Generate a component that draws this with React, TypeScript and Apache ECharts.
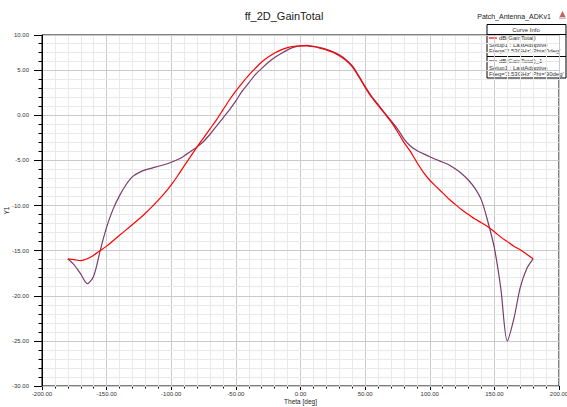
import React, { useEffect, useRef } from "react";
import * as echarts from "echarts";

const theta = [
  -180, -175, -170, -165, -160, -155, -150, -145, -140, -135, -130, -125, -120, -115, -110, -105, -100, -95, -90, -85,
  -80, -75, -70, -65, -60, -55, -50, -45, -40, -35, -30, -25, -20, -15, -10, -5, 0, 5, 10, 15, 20, 25, 30, 35, 40, 45,
  50, 55, 60, 65, 70, 75, 80, 85, 90, 95, 100, 105, 110, 115, 120, 125, 130, 135, 140, 145, 150, 155, 160, 165, 170,
  175, 180,
];

// dB(GainTotal), Phi = 0deg
const gainPhi0 = [
  -15.9, -16.0, -16.1, -15.9, -15.5, -15.0, -14.5, -13.9, -13.3, -12.7, -12.1, -11.5, -10.85, -10.15, -9.4, -8.6, -7.7,
  -6.7, -5.6, -4.55, -3.5, -2.5, -1.5, -0.5, 0.6, 1.7, 2.7, 3.6, 4.45, 5.2, 5.9, 6.45, 6.9, 7.25, 7.5, 7.65, 7.7, 7.7,
  7.6, 7.45, 7.25, 7.0, 6.6, 6.1, 5.4, 4.3, 3.1, 2.0, 1.1, 0.2, -0.7, -1.8, -3.0, -4.0, -5.2, -6.3, -7.2, -7.9, -8.6,
  -9.3, -9.9, -10.5, -11.0, -11.5, -11.9, -12.35, -12.9, -13.5, -14.0, -14.5, -14.9, -15.4, -15.9,
];

// dB(GainTotal)_1, Phi = 90deg
const gainPhi90 = [
  -15.9, -16.6, -17.6, -18.65, -17.8, -15.0, -12.4, -10.4, -8.9, -7.7, -6.8, -6.35, -6.05, -5.85, -5.65, -5.45, -5.2,
  -4.9, -4.5, -4.0, -3.5, -2.9, -2.1, -1.2, -0.3, 0.6, 1.6, 2.7, 3.6, 4.5, 5.2, 5.85, 6.4, 6.85, 7.25, 7.55, 7.7, 7.75,
  7.65, 7.5, 7.3, 7.05, 6.7, 6.2, 5.5, 4.4, 3.2, 2.1, 1.2, 0.3, -0.6, -1.5, -2.6, -3.4, -3.9, -4.25, -4.6, -4.9, -5.2,
  -5.5, -5.95, -6.5, -7.2, -8.1, -9.4, -11.8, -14.7, -19.2, -25.0, -22.6, -19.1, -17.0, -15.9,
];

const yTickLabels = ["-30.00", "-25.00", "-20.00", "-15.00", "-10.00", "-5.00", "0.00", "5.00", "10.00"];

const FONT = "Liberation Sans, Arial, sans-serif";
const RED = "#ff0000";
const PURPLE = "#7d3c6e";

export default function App() {
  const ref = useRef<HTMLDivElement>(null);
  useEffect(() => {
    const chart = echarts.init(ref.current!, null, { renderer: "svg" });
    const lightCycle = ["rgba(0,0,0,0)", "#e9e9e9", "#e9e9e9", "#e9e9e9", "#e9e9e9"];
    const legendText = (x: number, y: number, text: string) => ({
      type: "text",
      x,
      y,
      style: { text, fill: "#333", fontSize: 6, fontFamily: FONT, verticalAlign: "middle" },
    });
    chart.setOption({
      animation: false,
      backgroundColor: "#ffffff",
      textStyle: { fontFamily: FONT },
      grid: {
        left: 42,
        right: 8,
        top: 35,
        bottom: 21,
        show: true,
        borderColor: "#000",
        borderWidth: 1,
        containLabel: false,
        outerBoundsMode: "none",
      },
      xAxis: {
        type: "value",
        min: -200,
        max: 200,
        interval: 50,
        name: "Theta [deg]",
        nameLocation: "middle",
        nameGap: 11.5,
        nameMoveOverlap: false,
        nameTextStyle: { fontSize: 6.5, color: "#222", fontFamily: FONT },
        axisLine: { show: true, onZero: false, lineStyle: { color: "#000", width: 1 } },
        axisTick: { show: true, length: 4, lineStyle: { color: "#000" } },
        minorTick: { show: true, splitNumber: 5, length: 2.5, lineStyle: { color: "#000" } },
        axisLabel: { fontSize: 6, color: "#333", margin: 5, formatter: (v: number) => v.toFixed(2) },
        splitLine: { show: true, lineStyle: { color: "#cacaca", width: 1 } },
        minorSplitLine: { show: true, lineStyle: { color: "#e9e9e9", width: 1 } },
      },
      yAxis: [
        {
          type: "value",
          min: -30,
          max: 8.9,
          interval: 5,
          name: "Y1",
          nameLocation: "middle",
          nameGap: 32,
          nameMoveOverlap: false,
          nameTextStyle: { fontSize: 6.5, color: "#222", fontFamily: FONT },
          axisLine: { show: true, onZero: false, lineStyle: { color: "#000", width: 1 } },
          axisTick: { show: true, length: 8, lineStyle: { color: "#000" } },
          axisLabel: {
            fontSize: 6,
            color: "#333",
            margin: 13,
            formatter: (_v: number, i: number) => yTickLabels[i] ?? "",
          },
          splitLine: { show: true, lineStyle: { color: "#cacaca", width: 1 } },
          z: 2,
        },
        {
          type: "value",
          min: -30,
          max: 8.9,
          interval: 1,
          position: "left",
          axisLine: { show: false, onZero: false },
          axisTick: { show: true, length: 3.5, lineStyle: { color: "#000" } },
          axisLabel: { show: false },
          splitLine: { show: true, lineStyle: { color: lightCycle, width: 1 } },
          z: 1,
        },
      ],
      series: [
        {
          name: "dB(GainTotal)",
          type: "line",
          yAxisIndex: 0,
          data: theta.map((t, i) => [t, gainPhi0[i]]),
          smooth: 0.3,
          showSymbol: false,
          lineStyle: { color: RED, width: 1.2 },
          z: 4,
        },
        {
          name: "dB(GainTotal)_1",
          type: "line",
          yAxisIndex: 0,
          data: theta.map((t, i) => [t, gainPhi90[i]]),
          smooth: 0.3,
          showSymbol: false,
          lineStyle: { color: PURPLE, width: 1.2 },
          z: 3,
        },
      ],
      graphic: [
        {
          type: "text",
          x: 284,
          y: 16,
          style: { text: "ff_2D_GainTotal", fill: "#222", fontSize: 11, fontFamily: FONT, align: "center", verticalAlign: "middle" },
        },
        {
          type: "text",
          x: 514,
          y: 16,
          style: { text: "Patch_Antenna_ADKv1", fill: "#222", fontSize: 7, fontFamily: FONT, align: "center", verticalAlign: "middle" },
        },
        { type: "polygon", shape: { points: [[562.5, 11], [565.5, 17], [559.5, 17]] }, style: { fill: "#c9605a" } },
        { type: "rect", shape: { x: 559, y: 17.5, width: 7, height: 1.2 }, style: { fill: "#aaa" } },
        {
          type: "group",
          z: 100,
          children: [
            { type: "rect", shape: { x: 487, y: 24.5, width: 79, height: 53.5 }, style: { fill: "#fff", stroke: "#000", lineWidth: 1 } },
            { type: "line", shape: { x1: 487, y1: 34.5, x2: 566, y2: 34.5 }, style: { stroke: "#000", lineWidth: 1 } },
            { type: "line", shape: { x1: 487, y1: 56.5, x2: 566, y2: 56.5 }, style: { stroke: "#000", lineWidth: 1 } },
            {
              type: "text",
              x: 526,
              y: 29.5,
              style: { text: "Curve Info", fill: "#333", fontSize: 6, fontFamily: FONT, align: "center", verticalAlign: "middle" },
            },
            { type: "line", shape: { x1: 489, y1: 38, x2: 497, y2: 38 }, style: { stroke: RED, lineWidth: 1.2 } },
            legendText(499, 38, "dB(GainTotal)"),
            legendText(489, 44.5, "Setup1 : LastAdaptive"),
            legendText(489, 51, "Freq='2.53GHz' Phi='0deg'"),
            { type: "line", shape: { x1: 489, y1: 61, x2: 497, y2: 61 }, style: { stroke: PURPLE, lineWidth: 1.2 } },
            legendText(499, 61, "dB(GainTotal)_1"),
            legendText(489, 67.5, "Setup1 : LastAdaptive"),
            legendText(489, 73.5, "Freq='2.53GHz' Phi='90deg'"),
          ],
        },
      ],
    });
    return () => chart.dispose();
  }, []);
  return (
    <div
      ref={ref}
      style={{ position: "fixed", left: 0, top: 0, width: 567, height: 407, background: "#fff" }}
    />
  );
}
